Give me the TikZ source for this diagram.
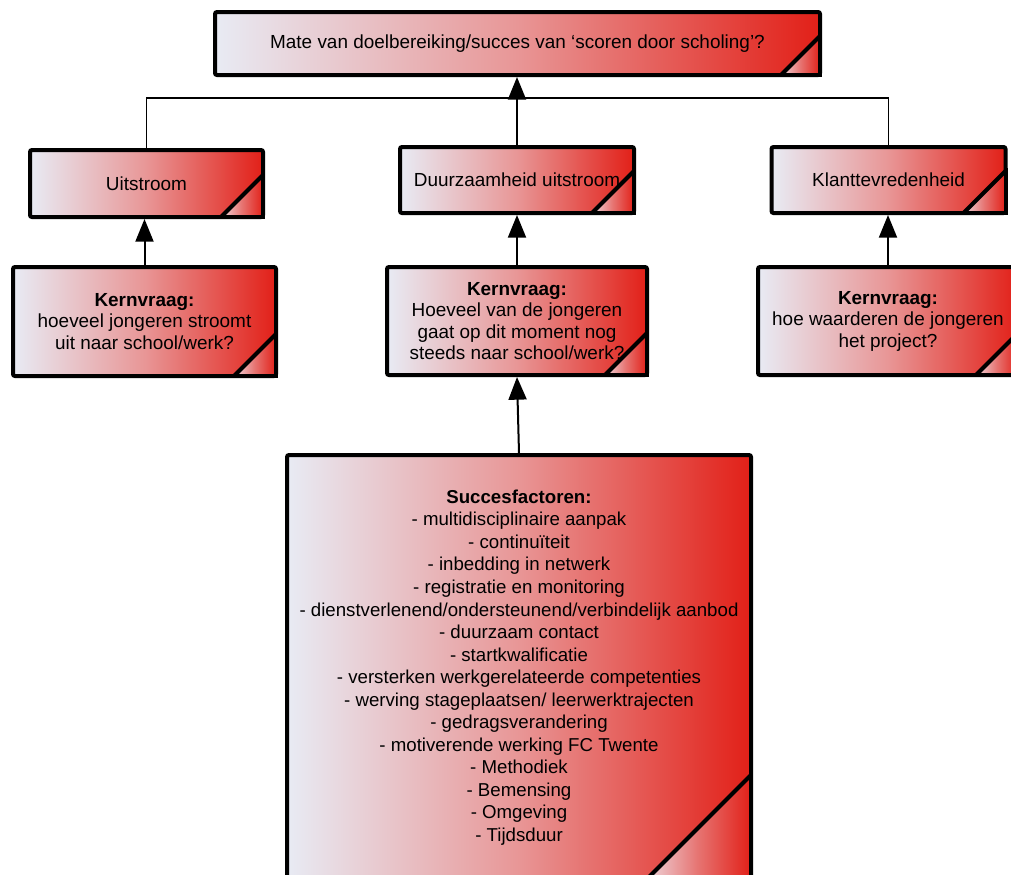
\documentclass[tikz,border=0pt]{standalone}
\usepackage{fontspec}
\setmainfont{Liberation Sans}
\usetikzlibrary{arrows.meta,calc}
\definecolor{lightc}{RGB}{232,235,244}
\definecolor{midc}{RGB}{232,150,150}
\definecolor{redc}{RGB}{226,32,24}
\definecolor{cornl}{RGB}{238,214,220}
\tikzset{
  box/.style={draw=black, line width=3pt, rounded corners=1.5pt,
    left color=lightc, right color=redc, middle color=midc,
    align=center, inner sep=2pt, font=\fontsize{14.2}{16.1}\selectfont},
  cornshade/.style={left color=cornl, right color=redc, middle color=midc!70!redc},
  cornline/.style={line width=3pt},
  conn/.style={line width=1.2pt},
  arr/.style={line width=1.5pt, -{Triangle[width=13.5pt,length=17pt]}},
}
% #1 node name, #2 corner size in px
\newcommand\boxcorner[2]{%
  \coordinate (#1-c) at ($(#1.south east)+(-2,-2)$);
  \shade[cornshade] ($(#1-c)+(-#2,0)$) -- (#1-c) -- ($(#1-c)+(0,-#2)$) -- cycle;
  \draw[cornline] ($(#1-c)+(-#2,0)$) -- ($(#1-c)+(0,-#2)$);
  \draw[cornline] ($(#1-c)+(-#2-3,0)$) -- (#1-c) -- ($(#1-c)+(0,-#2-3)$);
}
\begin{document}
\begin{tikzpicture}[x=0.75pt,y=-0.75pt]
\useasboundingbox (0,0) rectangle (1011,875);
\clip (0,0) rectangle (1011,875);

\node[box, minimum width=453.75pt, minimum height=47.25pt] (top) at (517.5,43.5)
  {Mate van doelbereiking/succes van ‘scoren door scholing’?};

\node[box, minimum width=174.75pt, minimum height=50.25pt] (uit) at (146.5,183.5) {Uitstroom};
\node[box, minimum width=175.5pt, minimum height=49.5pt] (duur) at (517,180) {Duurzaamheid uitstroom};
\node[box, minimum width=175.5pt, minimum height=49.5pt] (klant) at (888.5,180) {Klanttevredenheid};

\node[box, minimum width=197.25pt, minimum height=81.75pt] (k1) at (144.5,321.5)
  {\textbf{Kernvraag:}\\hoeveel jongeren stroomt\\uit naar school/werk?};
\node[box, minimum width=195pt, minimum height=81pt] (k2) at (517,321)
  {\textbf{Kernvraag:}\\Hoeveel van de jongeren\\gaat op dit moment nog\\steeds naar school/werk?};
\node[box, minimum width=195pt, minimum height=81pt] (k3) at (888,321)
  {\textbf{Kernvraag:}\\hoe waarderen de jongeren\\het project?};

\node[box, minimum width=348pt, minimum height=318.75pt,
  font=\fontsize{14}{16.9}\selectfont] (succ) at (519,667.5)
  {\textbf{Succesfactoren:}\\
   - multidisciplinaire aanpak\\
   - continuïteit\\
   - inbedding in netwerk\\
   - registratie en monitoring\\
   - dienstverlenend/ondersteunend/verbindelijk aanbod\\
   - duurzaam contact\\
   - startkwalificatie\\
   - versterken werkgerelateerde competenties\\
   - werving stageplaatsen/ leerwerktrajecten\\
   - gedragsverandering\\
   - motiverende werking FC Twente\\
   - Methodiek\\
   - Bemensing\\
   - Omgeving\\
   - Tijdsduur};

\boxcorner{top}{39}
\boxcorner{uit}{42}
\boxcorner{duur}{42}
\boxcorner{klant}{42}
\boxcorner{k1}{42}
\boxcorner{k2}{42}
\boxcorner{k3}{42}
\boxcorner{succ}{105}

\coordinate (bar) at (517.5,98);
\draw[conn] (uit.north) |- (bar) -| (klant.north);
\draw[arr] (duur.north) -- (duur.north |- top.south);
\draw[arr] (k1.north) -- (k1.north |- uit.south);
\draw[arr] (k2.north) -- (k2.north |- duur.south);
\draw[arr] (k3.north) -- (k3.north |- klant.south);
\draw[arr] (succ.north) -- (k2.south);
\end{tikzpicture}
\end{document}
